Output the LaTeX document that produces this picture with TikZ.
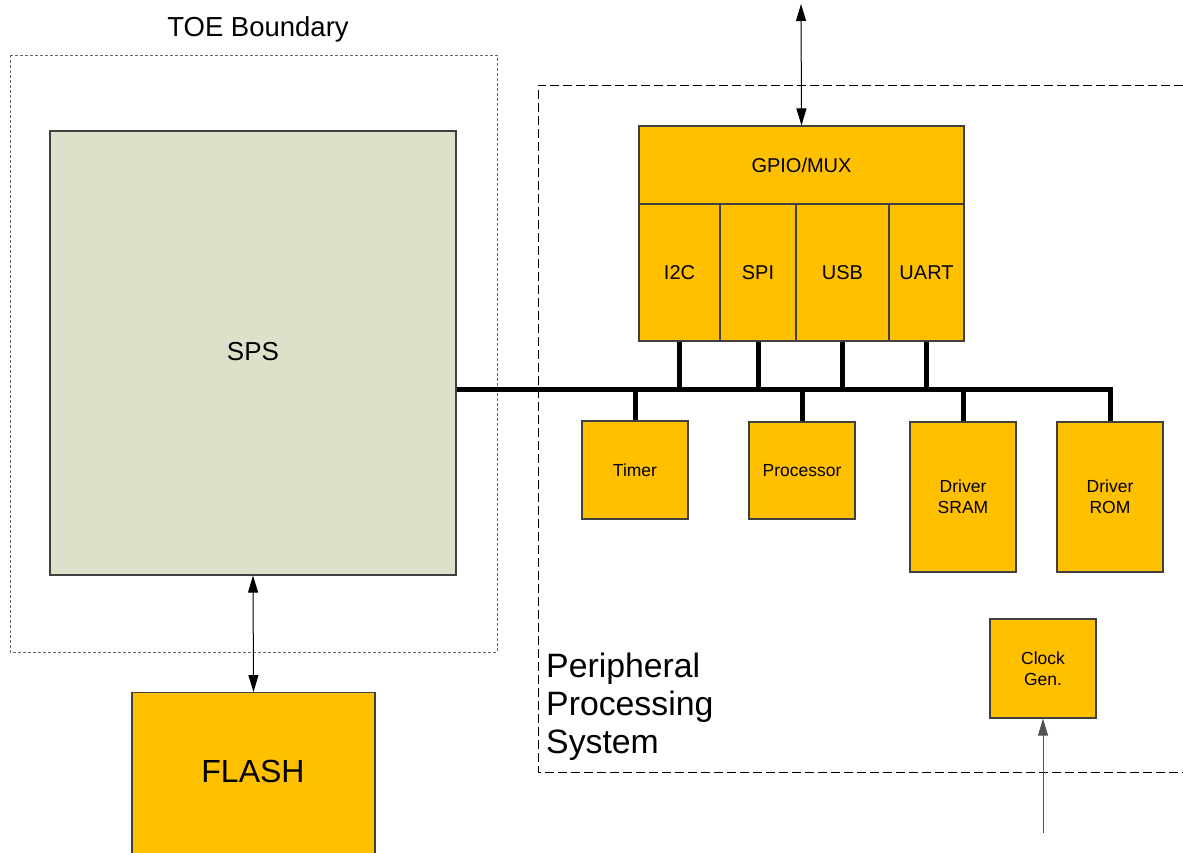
\documentclass[tikz,border=0pt]{standalone}
\usepackage{fontspec}
\setmainfont{Liberation Sans}
\usetikzlibrary{arrows.meta}
\definecolor{orng}{HTML}{FFC000}
\definecolor{spsfill}{HTML}{DEE1CA}
\definecolor{edge}{HTML}{404040}
\tikzset{
  blk/.style={draw=edge, line width=1.1pt, fill=orng, inner sep=0pt, align=center, font=\fontsize{17.5}{21}\selectfont},
  iface/.style={draw=edge, line width=1.1pt, fill=orng, inner sep=0pt, align=center, font=\fontsize{20}{22}\selectfont},
  busline/.style={line width=5pt, black},
  biarrow/.style={{Triangle[length=17pt,width=10pt]}-{Triangle[length=17pt,width=10pt]}, line width=1pt},
}
\begin{document}
\begin{tikzpicture}[x=1pt,y=-1pt]
\useasboundingbox (0,0) rectangle (1183,852);
% TOE boundary
\draw[edge!80, line width=1pt, dash pattern=on 3pt off 2pt] (10,55) rectangle (497,652);
\node[font=\fontsize{27.5}{30}\selectfont, inner sep=0] (toe) at (258,29) {TOE Boundary};
% Peripheral boundary
\draw[black, line width=1pt, dash pattern=on 9pt off 4pt] (1183,85) -- (538,85) -- (538,772) -- (1183,772);
\node[font=\fontsize{33.8}{38}\selectfont, align=left, anchor=west, inner sep=0] (pps) at (546,707) {Peripheral\\Processing\\System};
% SPS
\node[draw=edge, line width=1.1pt, fill=spsfill, minimum width=406pt, minimum height=444pt, inner sep=0] (sps) at (253,353) {};
\node[font=\fontsize{26}{30}\selectfont, inner sep=0] (spst) at (253,352) {SPS};
% FLASH
\node[draw=edge, line width=1.1pt, fill=orng, minimum width=243pt, minimum height=180pt, inner sep=0, anchor=north] (flash) at (253.5,692) {};
\node[font=\fontsize{32}{36}\selectfont, inner sep=0] (flasht) at (253,771) {FLASH};
% GPIO/MUX
\node[iface, minimum width=325pt, minimum height=78pt] (gpio) at (801.5,165) {GPIO/MUX};
\node[iface, minimum width=81pt, minimum height=137pt] (i2c) at (679.5,272.5) {I2C};
\node[iface, minimum width=76pt, minimum height=137pt] (spi) at (758,272.5) {SPI};
\node[iface, minimum width=93pt, minimum height=137pt] (usb) at (842.5,272.5) {USB};
\node[iface, minimum width=75pt, minimum height=137pt] (uart) at (926.5,272.5) {UART};
% Peripheral blocks
\node[blk, minimum width=106pt, minimum height=98pt] (timer) at (635,470) {Timer};
\node[blk, minimum width=106pt, minimum height=97pt] (proc) at (802,470.5) {Processor};
\node[blk, minimum width=106pt, minimum height=150pt] (sram) at (963,497) {Driver\\SRAM};
\node[blk, minimum width=106pt, minimum height=150pt] (rom) at (1110,497) {Driver\\ROM};
\node[blk, minimum width=106pt, minimum height=99pt] (clk) at (1043,668.5) {Clock\\Gen.};
% Bus
\coordinate (busend) at (1110,389);
\draw[busline] (sps.east |- busend) -- (busend) -- (rom.north);
\foreach \n in {i2c,spi,usb,uart}{
  \draw[busline] (\n.south) -- (\n.south |- busend);
}
\foreach \n in {timer,proc,sram}{
  \draw[busline] (\n.north) -- (\n.north |- busend);
}
% Arrows
\coordinate (ext) at (801,4);
\draw[biarrow] (ext) -- (gpio.north);
\draw[biarrow] (sps.south) -- (flash.north);
\coordinate (clkin) at (1043,833);
\draw[-{Triangle[length=17pt,width=10pt]}, line width=1pt, edge!90] (clkin) -- (clk.south);
\end{tikzpicture}
\end{document}
